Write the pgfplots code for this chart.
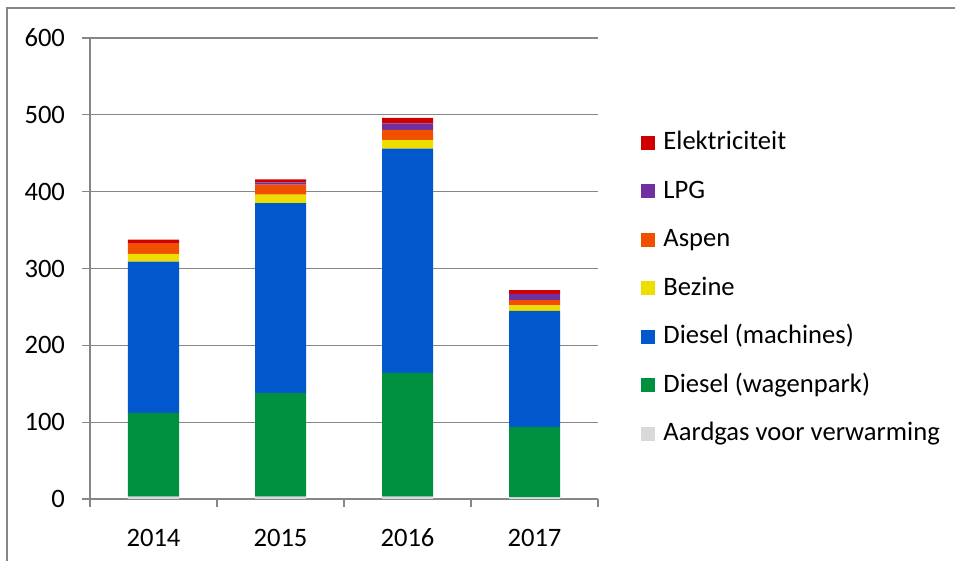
\documentclass[border=0pt]{standalone}
\usepackage{pgfplots}
\pgfplotsset{compat=1.18}
\usepackage{fontspec}
\setmainfont{Carlito}
\definecolor{elek}{RGB}{208,0,0}
\definecolor{lpg}{RGB}{112,48,160}
\definecolor{aspen}{RGB}{240,80,0}
\definecolor{bez}{RGB}{238,222,0}
\definecolor{dmach}{RGB}{0,88,204}
\definecolor{dwag}{RGB}{0,145,64}
\definecolor{aard}{RGB}{217,217,217}
\definecolor{gridc}{RGB}{134,134,134}
\begin{document}
\begin{tikzpicture}
\path[use as bounding box] (0,0) rectangle (477.5bp,280.5bp);
\draw[gridc, line width=0.8bp] (3.5bp,-2bp) -- (3.5bp,276.5bp) -- (480bp,276.5bp);
\begin{axis}[
  at={(45bp,31bp)}, anchor=south west,
  scale only axis, width=254bp, height=230.5bp,
  ybar stacked, bar width=25.5bp,
  xmin=-0.5, xmax=3.5, ymin=0, ymax=600,
  xtick={0,1,2,3}, xticklabels={2014,2015,2016,2017},
  minor xtick={-0.5,0.5,1.5,2.5,3.5},
  ytick={0,100,...,600},
  ymajorgrids, grid style={gridc, line width=0.6bp},
  axis x line*=bottom, axis y line*=left,
  axis line style={gridc, line width=0.6bp, -},
  tick align=outside,
  major tick length=4bp, minor tick length=4bp,
  major x tick style={draw=none},
  minor x tick style={gridc, line width=0.6bp},
  ytick style={gridc, line width=0.6bp},
  tick label style={font=\fontsize{13.3bp}{15bp}\selectfont, text=black},
  /pgf/number format/assume math mode=true,
  yticklabel style={xshift=-5bp},
  xticklabel style={yshift=-6.5bp, text height=9.5bp, text depth=0pt},
  legend style={draw=none, fill=none, at={(1.0847,0.800)}, anchor=north west,
    font=\fontsize{13.3bp}{15bp}\selectfont, inner sep=0pt, row sep=12.25bp, column sep=4bp,
    nodes={inner sep=0pt, text height=9.5bp, text depth=2.5bp}},
  legend cell align=left,
  reverse legend,
  legend image code/.code={\fill[#1] (0bp,-3.5bp) rectangle (7bp,3.5bp);},
]
\addplot[fill=aard, draw=none] coordinates {(0,3) (1,3) (2,3) (3,2)};
\addplot[fill=dwag, draw=none] coordinates {(0,109) (1,135) (2,161) (3,92)};
\addplot[fill=dmach, draw=none] coordinates {(0,197) (1,247) (2,292) (3,151)};
\addplot[fill=bez, draw=none] coordinates {(0,10) (1,11) (2,11) (3,7)};
\addplot[fill=aspen, draw=none] coordinates {(0,14) (1,13) (2,13.5) (3,7)};
\addplot[fill=lpg, draw=none] coordinates {(0,0.5) (1,3) (2,8.5) (3,8)};
\addplot[fill=elek, draw=none] coordinates {(0,4) (1,4) (2,7) (3,5)};
\legend{Aardgas voor verwarming, Diesel (wagenpark), Diesel (machines), Bezine, Aspen, LPG, Elektriciteit}
\end{axis}
\end{tikzpicture}
\end{document}
